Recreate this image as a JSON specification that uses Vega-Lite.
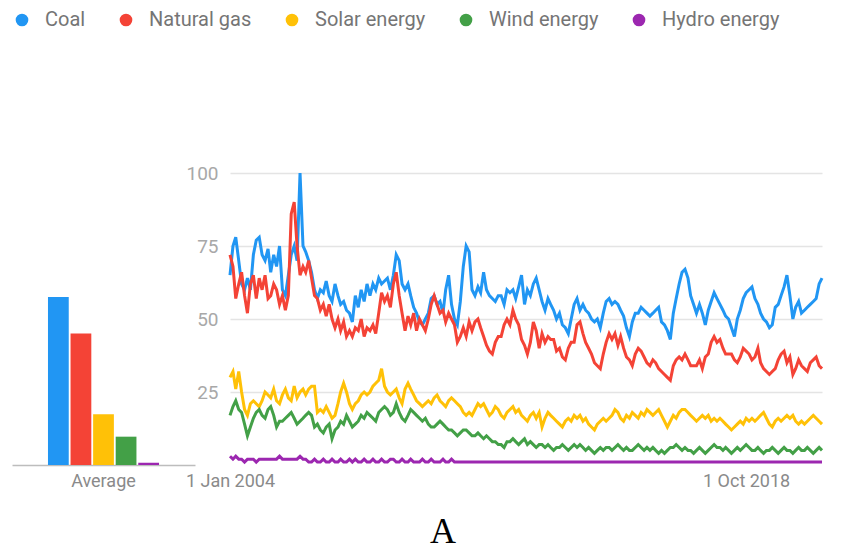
{
"$schema": "https://vega.github.io/schema/vega-lite/v6.json",
"background": "white",
"padding": {"left": 12, "top": 10, "right": 5, "bottom": 5},
"config": {"view": {"stroke": null}, "font": "Roboto"},
"bounds": "flush",
"spacing": 35,
"title": {"text": "A", "orient": "bottom", "anchor": "middle", "font": "Liberation Serif", "fontSize": 36, "fontWeight": "normal", "color": "#000000", "offset": 25, "dx": 23},
"datasets": {
"avg": [
{"label": "Average", "series": "Coal", "avg": 57.5},
{"label": "Average", "series": "Natural gas", "avg": 45},
{"label": "Average", "series": "Solar energy", "avg": 17.4},
{"label": "Average", "series": "Wind energy", "avg": 9.7},
{"label": "Average", "series": "Hydro energy", "avg": 0.8}
],
"trend": [
{"d":"2004/01/01","Coal":65,"Natural gas":72,"Solar energy":30,"Wind energy":17,"Hydro energy":3},
{"d":"2004/02/01","Coal":75,"Natural gas":68,"Solar energy":32,"Wind energy":20,"Hydro energy":2},
{"d":"2004/03/01","Coal":78,"Natural gas":57,"Solar energy":26,"Wind energy":22,"Hydro energy":3},
{"d":"2004/04/01","Coal":70,"Natural gas":62,"Solar energy":32,"Wind energy":19,"Hydro energy":2},
{"d":"2004/05/01","Coal":62,"Natural gas":66,"Solar energy":25,"Wind energy":18,"Hydro energy":2},
{"d":"2004/06/01","Coal":60,"Natural gas":58,"Solar energy":19,"Wind energy":14,"Hydro energy":1},
{"d":"2004/07/01","Coal":64,"Natural gas":52,"Solar energy":17,"Wind energy":10,"Hydro energy":2},
{"d":"2004/08/01","Coal":60,"Natural gas":62,"Solar energy":21,"Wind energy":13,"Hydro energy":2},
{"d":"2004/09/01","Coal":72,"Natural gas":65,"Solar energy":22,"Wind energy":16,"Hydro energy":2},
{"d":"2004/10/01","Coal":77,"Natural gas":57,"Solar energy":21,"Wind energy":18,"Hydro energy":1},
{"d":"2004/11/01","Coal":78,"Natural gas":64,"Solar energy":20,"Wind energy":19,"Hydro energy":2},
{"d":"2004/12/01","Coal":72,"Natural gas":60,"Solar energy":22,"Wind energy":17,"Hydro energy":2},
{"d":"2005/01/01","Coal":70,"Natural gas":65,"Solar energy":25,"Wind energy":16,"Hydro energy":2},
{"d":"2005/02/01","Coal":74,"Natural gas":57,"Solar energy":24,"Wind energy":19,"Hydro energy":2},
{"d":"2005/03/01","Coal":66,"Natural gas":58,"Solar energy":23,"Wind energy":20,"Hydro energy":2},
{"d":"2005/04/01","Coal":72,"Natural gas":62,"Solar energy":26,"Wind energy":17,"Hydro energy":2},
{"d":"2005/05/01","Coal":68,"Natural gas":60,"Solar energy":22,"Wind energy":13,"Hydro energy":2},
{"d":"2005/06/01","Coal":75,"Natural gas":55,"Solar energy":21,"Wind energy":15,"Hydro energy":3},
{"d":"2005/07/01","Coal":60,"Natural gas":58,"Solar energy":24,"Wind energy":15,"Hydro energy":2},
{"d":"2005/08/01","Coal":58,"Natural gas":53,"Solar energy":26,"Wind energy":16,"Hydro energy":2},
{"d":"2005/09/01","Coal":65,"Natural gas":58,"Solar energy":23,"Wind energy":17,"Hydro energy":2},
{"d":"2005/10/01","Coal":72,"Natural gas":86,"Solar energy":22,"Wind energy":18,"Hydro energy":2},
{"d":"2005/11/01","Coal":75,"Natural gas":90,"Solar energy":27,"Wind energy":16,"Hydro energy":2},
{"d":"2005/12/01","Coal":70,"Natural gas":75,"Solar energy":23,"Wind energy":14,"Hydro energy":2},
{"d":"2006/01/01","Coal":100,"Natural gas":65,"Solar energy":25,"Wind energy":15,"Hydro energy":3},
{"d":"2006/02/01","Coal":75,"Natural gas":68,"Solar energy":26,"Wind energy":16,"Hydro energy":2},
{"d":"2006/03/01","Coal":73,"Natural gas":66,"Solar energy":24,"Wind energy":17,"Hydro energy":2},
{"d":"2006/04/01","Coal":70,"Natural gas":70,"Solar energy":26,"Wind energy":18,"Hydro energy":1},
{"d":"2006/05/01","Coal":66,"Natural gas":64,"Solar energy":27,"Wind energy":17,"Hydro energy":1},
{"d":"2006/06/01","Coal":60,"Natural gas":58,"Solar energy":27,"Wind energy":13,"Hydro energy":2},
{"d":"2006/07/01","Coal":57,"Natural gas":57,"Solar energy":18,"Wind energy":14,"Hydro energy":1},
{"d":"2006/08/01","Coal":60,"Natural gas":53,"Solar energy":19,"Wind energy":12,"Hydro energy":1},
{"d":"2006/09/01","Coal":59,"Natural gas":55,"Solar energy":18,"Wind energy":11,"Hydro energy":2},
{"d":"2006/10/01","Coal":63,"Natural gas":51,"Solar energy":20,"Wind energy":13,"Hydro energy":1},
{"d":"2006/11/01","Coal":58,"Natural gas":55,"Solar energy":18,"Wind energy":14,"Hydro energy":1},
{"d":"2006/12/01","Coal":56,"Natural gas":50,"Solar energy":16,"Wind energy":9,"Hydro energy":2},
{"d":"2007/01/01","Coal":62,"Natural gas":47,"Solar energy":17,"Wind energy":12,"Hydro energy":1},
{"d":"2007/02/01","Coal":58,"Natural gas":50,"Solar energy":21,"Wind energy":13,"Hydro energy":1},
{"d":"2007/03/01","Coal":55,"Natural gas":46,"Solar energy":25,"Wind energy":15,"Hydro energy":2},
{"d":"2007/04/01","Coal":56,"Natural gas":49,"Solar energy":28,"Wind energy":14,"Hydro energy":1},
{"d":"2007/05/01","Coal":53,"Natural gas":44,"Solar energy":25,"Wind energy":17,"Hydro energy":1},
{"d":"2007/06/01","Coal":52,"Natural gas":46,"Solar energy":21,"Wind energy":15,"Hydro energy":2},
{"d":"2007/07/01","Coal":49,"Natural gas":44,"Solar energy":19,"Wind energy":13,"Hydro energy":1},
{"d":"2007/08/01","Coal":58,"Natural gas":47,"Solar energy":21,"Wind energy":14,"Hydro energy":2},
{"d":"2007/09/01","Coal":54,"Natural gas":46,"Solar energy":22,"Wind energy":15,"Hydro energy":1},
{"d":"2007/10/01","Coal":60,"Natural gas":50,"Solar energy":24,"Wind energy":17,"Hydro energy":1},
{"d":"2007/11/01","Coal":56,"Natural gas":44,"Solar energy":25,"Wind energy":16,"Hydro energy":2},
{"d":"2007/12/01","Coal":62,"Natural gas":47,"Solar energy":24,"Wind energy":18,"Hydro energy":1},
{"d":"2008/01/01","Coal":58,"Natural gas":46,"Solar energy":25,"Wind energy":17,"Hydro energy":1},
{"d":"2008/02/01","Coal":62,"Natural gas":48,"Solar energy":27,"Wind energy":16,"Hydro energy":2},
{"d":"2008/03/01","Coal":60,"Natural gas":45,"Solar energy":28,"Wind energy":15,"Hydro energy":1},
{"d":"2008/04/01","Coal":64,"Natural gas":52,"Solar energy":29,"Wind energy":18,"Hydro energy":1},
{"d":"2008/05/01","Coal":62,"Natural gas":59,"Solar energy":33,"Wind energy":19,"Hydro energy":2},
{"d":"2008/06/01","Coal":63,"Natural gas":56,"Solar energy":27,"Wind energy":20,"Hydro energy":1},
{"d":"2008/07/01","Coal":64,"Natural gas":58,"Solar energy":25,"Wind energy":19,"Hydro energy":1},
{"d":"2008/08/01","Coal":60,"Natural gas":54,"Solar energy":24,"Wind energy":17,"Hydro energy":2},
{"d":"2008/09/01","Coal":65,"Natural gas":62,"Solar energy":25,"Wind energy":18,"Hydro energy":2},
{"d":"2008/10/01","Coal":72,"Natural gas":66,"Solar energy":26,"Wind energy":21,"Hydro energy":1},
{"d":"2008/11/01","Coal":70,"Natural gas":58,"Solar energy":23,"Wind energy":18,"Hydro energy":1},
{"d":"2008/12/01","Coal":62,"Natural gas":52,"Solar energy":21,"Wind energy":16,"Hydro energy":2},
{"d":"2009/01/01","Coal":60,"Natural gas":46,"Solar energy":26,"Wind energy":15,"Hydro energy":1},
{"d":"2009/02/01","Coal":62,"Natural gas":51,"Solar energy":28,"Wind energy":17,"Hydro energy":1},
{"d":"2009/03/01","Coal":58,"Natural gas":48,"Solar energy":26,"Wind energy":19,"Hydro energy":2},
{"d":"2009/04/01","Coal":54,"Natural gas":52,"Solar energy":24,"Wind energy":18,"Hydro energy":1},
{"d":"2009/05/01","Coal":52,"Natural gas":46,"Solar energy":22,"Wind energy":17,"Hydro energy":1},
{"d":"2009/06/01","Coal":49,"Natural gas":50,"Solar energy":21,"Wind energy":16,"Hydro energy":1},
{"d":"2009/07/01","Coal":48,"Natural gas":48,"Solar energy":20,"Wind energy":15,"Hydro energy":2},
{"d":"2009/08/01","Coal":50,"Natural gas":46,"Solar energy":21,"Wind energy":16,"Hydro energy":1},
{"d":"2009/09/01","Coal":52,"Natural gas":50,"Solar energy":22,"Wind energy":14,"Hydro energy":1},
{"d":"2009/10/01","Coal":57,"Natural gas":55,"Solar energy":21,"Wind energy":13,"Hydro energy":2},
{"d":"2009/11/01","Coal":58,"Natural gas":58,"Solar energy":23,"Wind energy":13,"Hydro energy":1},
{"d":"2009/12/01","Coal":55,"Natural gas":55,"Solar energy":24,"Wind energy":14,"Hydro energy":1},
{"d":"2010/01/01","Coal":56,"Natural gas":52,"Solar energy":22,"Wind energy":15,"Hydro energy":1},
{"d":"2010/02/01","Coal":52,"Natural gas":53,"Solar energy":21,"Wind energy":14,"Hydro energy":2},
{"d":"2010/03/01","Coal":60,"Natural gas":49,"Solar energy":20,"Wind energy":13,"Hydro energy":1},
{"d":"2010/04/01","Coal":65,"Natural gas":52,"Solar energy":22,"Wind energy":12,"Hydro energy":1},
{"d":"2010/05/01","Coal":55,"Natural gas":50,"Solar energy":23,"Wind energy":12,"Hydro energy":2},
{"d":"2010/06/01","Coal":50,"Natural gas":48,"Solar energy":22,"Wind energy":11,"Hydro energy":1},
{"d":"2010/07/01","Coal":48,"Natural gas":42,"Solar energy":21,"Wind energy":10,"Hydro energy":1},
{"d":"2010/08/01","Coal":56,"Natural gas":44,"Solar energy":20,"Wind energy":11,"Hydro energy":1},
{"d":"2010/09/01","Coal":68,"Natural gas":47,"Solar energy":18,"Wind energy":12,"Hydro energy":1},
{"d":"2010/10/01","Coal":75,"Natural gas":44,"Solar energy":17,"Wind energy":12,"Hydro energy":1},
{"d":"2010/11/01","Coal":73,"Natural gas":49,"Solar energy":18,"Wind energy":11,"Hydro energy":1},
{"d":"2010/12/01","Coal":60,"Natural gas":46,"Solar energy":17,"Wind energy":10,"Hydro energy":1},
{"d":"2011/01/01","Coal":58,"Natural gas":49,"Solar energy":19,"Wind energy":10,"Hydro energy":1},
{"d":"2011/02/01","Coal":61,"Natural gas":50,"Solar energy":21,"Wind energy":11,"Hydro energy":1},
{"d":"2011/03/01","Coal":59,"Natural gas":47,"Solar energy":20,"Wind energy":10,"Hydro energy":1},
{"d":"2011/04/01","Coal":66,"Natural gas":44,"Solar energy":21,"Wind energy":9,"Hydro energy":1},
{"d":"2011/05/01","Coal":60,"Natural gas":41,"Solar energy":19,"Wind energy":10,"Hydro energy":1},
{"d":"2011/06/01","Coal":58,"Natural gas":39,"Solar energy":17,"Wind energy":9,"Hydro energy":1},
{"d":"2011/07/01","Coal":57,"Natural gas":38,"Solar energy":18,"Wind energy":8,"Hydro energy":1},
{"d":"2011/08/01","Coal":56,"Natural gas":42,"Solar energy":20,"Wind energy":8,"Hydro energy":1},
{"d":"2011/09/01","Coal":58,"Natural gas":44,"Solar energy":19,"Wind energy":7,"Hydro energy":1},
{"d":"2011/10/01","Coal":58,"Natural gas":44,"Solar energy":17,"Wind energy":7,"Hydro energy":1},
{"d":"2011/11/01","Coal":55,"Natural gas":48,"Solar energy":16,"Wind energy":6,"Hydro energy":1},
{"d":"2011/12/01","Coal":60,"Natural gas":50,"Solar energy":18,"Wind energy":8,"Hydro energy":1},
{"d":"2012/01/01","Coal":59,"Natural gas":48,"Solar energy":19,"Wind energy":8,"Hydro energy":1},
{"d":"2012/02/01","Coal":60,"Natural gas":53,"Solar energy":20,"Wind energy":9,"Hydro energy":1},
{"d":"2012/03/01","Coal":57,"Natural gas":50,"Solar energy":18,"Wind energy":8,"Hydro energy":1},
{"d":"2012/04/01","Coal":61,"Natural gas":48,"Solar energy":19,"Wind energy":7,"Hydro energy":1},
{"d":"2012/05/01","Coal":65,"Natural gas":43,"Solar energy":17,"Wind energy":8,"Hydro energy":1},
{"d":"2012/06/01","Coal":55,"Natural gas":41,"Solar energy":16,"Wind energy":9,"Hydro energy":1},
{"d":"2012/07/01","Coal":60,"Natural gas":38,"Solar energy":15,"Wind energy":7,"Hydro energy":1},
{"d":"2012/08/01","Coal":58,"Natural gas":42,"Solar energy":17,"Wind energy":8,"Hydro energy":1},
{"d":"2012/09/01","Coal":62,"Natural gas":49,"Solar energy":18,"Wind energy":7,"Hydro energy":1},
{"d":"2012/10/01","Coal":64,"Natural gas":46,"Solar energy":16,"Wind energy":6,"Hydro energy":1},
{"d":"2012/11/01","Coal":60,"Natural gas":40,"Solar energy":18,"Wind energy":7,"Hydro energy":1},
{"d":"2012/12/01","Coal":56,"Natural gas":45,"Solar energy":13,"Wind energy":7,"Hydro energy":1},
{"d":"2013/01/01","Coal":53,"Natural gas":42,"Solar energy":16,"Wind energy":6,"Hydro energy":1},
{"d":"2013/02/01","Coal":57,"Natural gas":44,"Solar energy":18,"Wind energy":7,"Hydro energy":1},
{"d":"2013/03/01","Coal":55,"Natural gas":43,"Solar energy":17,"Wind energy":6,"Hydro energy":1},
{"d":"2013/04/01","Coal":53,"Natural gas":43,"Solar energy":16,"Wind energy":5,"Hydro energy":1},
{"d":"2013/05/01","Coal":50,"Natural gas":39,"Solar energy":15,"Wind energy":6,"Hydro energy":1},
{"d":"2013/06/01","Coal":52,"Natural gas":40,"Solar energy":14,"Wind energy":6,"Hydro energy":1},
{"d":"2013/07/01","Coal":48,"Natural gas":37,"Solar energy":13,"Wind energy":7,"Hydro energy":1},
{"d":"2013/08/01","Coal":47,"Natural gas":36,"Solar energy":15,"Wind energy":6,"Hydro energy":1},
{"d":"2013/09/01","Coal":45,"Natural gas":40,"Solar energy":16,"Wind energy":5,"Hydro energy":1},
{"d":"2013/10/01","Coal":50,"Natural gas":42,"Solar energy":15,"Wind energy":6,"Hydro energy":1},
{"d":"2013/11/01","Coal":55,"Natural gas":42,"Solar energy":17,"Wind energy":7,"Hydro energy":1},
{"d":"2013/12/01","Coal":57,"Natural gas":48,"Solar energy":16,"Wind energy":6,"Hydro energy":1},
{"d":"2014/01/01","Coal":53,"Natural gas":49,"Solar energy":17,"Wind energy":7,"Hydro energy":1},
{"d":"2014/02/01","Coal":55,"Natural gas":45,"Solar energy":15,"Wind energy":6,"Hydro energy":1},
{"d":"2014/03/01","Coal":53,"Natural gas":42,"Solar energy":16,"Wind energy":5,"Hydro energy":1},
{"d":"2014/04/01","Coal":52,"Natural gas":40,"Solar energy":14,"Wind energy":6,"Hydro energy":1},
{"d":"2014/05/01","Coal":50,"Natural gas":38,"Solar energy":13,"Wind energy":5,"Hydro energy":1},
{"d":"2014/06/01","Coal":49,"Natural gas":35,"Solar energy":12,"Wind energy":4,"Hydro energy":1},
{"d":"2014/07/01","Coal":50,"Natural gas":34,"Solar energy":14,"Wind energy":5,"Hydro energy":1},
{"d":"2014/08/01","Coal":47,"Natural gas":33,"Solar energy":15,"Wind energy":6,"Hydro energy":1},
{"d":"2014/09/01","Coal":52,"Natural gas":38,"Solar energy":16,"Wind energy":5,"Hydro energy":1},
{"d":"2014/10/01","Coal":56,"Natural gas":42,"Solar energy":15,"Wind energy":6,"Hydro energy":1},
{"d":"2014/11/01","Coal":57,"Natural gas":45,"Solar energy":16,"Wind energy":6,"Hydro energy":1},
{"d":"2014/12/01","Coal":55,"Natural gas":43,"Solar energy":17,"Wind energy":5,"Hydro energy":1},
{"d":"2015/01/01","Coal":56,"Natural gas":45,"Solar energy":19,"Wind energy":6,"Hydro energy":1},
{"d":"2015/02/01","Coal":55,"Natural gas":41,"Solar energy":18,"Wind energy":7,"Hydro energy":1},
{"d":"2015/03/01","Coal":53,"Natural gas":44,"Solar energy":16,"Wind energy":6,"Hydro energy":1},
{"d":"2015/04/01","Coal":51,"Natural gas":40,"Solar energy":15,"Wind energy":5,"Hydro energy":1},
{"d":"2015/05/01","Coal":47,"Natural gas":37,"Solar energy":17,"Wind energy":6,"Hydro energy":1},
{"d":"2015/06/01","Coal":44,"Natural gas":36,"Solar energy":16,"Wind energy":5,"Hydro energy":1},
{"d":"2015/07/01","Coal":49,"Natural gas":34,"Solar energy":18,"Wind energy":5,"Hydro energy":1},
{"d":"2015/08/01","Coal":52,"Natural gas":38,"Solar energy":17,"Wind energy":6,"Hydro energy":1},
{"d":"2015/09/01","Coal":52,"Natural gas":40,"Solar energy":16,"Wind energy":7,"Hydro energy":1},
{"d":"2015/10/01","Coal":54,"Natural gas":39,"Solar energy":18,"Wind energy":6,"Hydro energy":1},
{"d":"2015/11/01","Coal":53,"Natural gas":37,"Solar energy":17,"Wind energy":5,"Hydro energy":1},
{"d":"2015/12/01","Coal":52,"Natural gas":35,"Solar energy":19,"Wind energy":6,"Hydro energy":1},
{"d":"2016/01/01","Coal":51,"Natural gas":34,"Solar energy":18,"Wind energy":5,"Hydro energy":1},
{"d":"2016/02/01","Coal":52,"Natural gas":36,"Solar energy":17,"Wind energy":6,"Hydro energy":1},
{"d":"2016/03/01","Coal":53,"Natural gas":35,"Solar energy":18,"Wind energy":5,"Hydro energy":1},
{"d":"2016/04/01","Coal":54,"Natural gas":33,"Solar energy":19,"Wind energy":4,"Hydro energy":1},
{"d":"2016/05/01","Coal":49,"Natural gas":32,"Solar energy":17,"Wind energy":5,"Hydro energy":1},
{"d":"2016/06/01","Coal":48,"Natural gas":31,"Solar energy":15,"Wind energy":4,"Hydro energy":1},
{"d":"2016/07/01","Coal":46,"Natural gas":30,"Solar energy":13,"Wind energy":5,"Hydro energy":1},
{"d":"2016/08/01","Coal":43,"Natural gas":29,"Solar energy":15,"Wind energy":6,"Hydro energy":1},
{"d":"2016/09/01","Coal":52,"Natural gas":34,"Solar energy":17,"Wind energy":6,"Hydro energy":1},
{"d":"2016/10/01","Coal":57,"Natural gas":36,"Solar energy":16,"Wind energy":7,"Hydro energy":1},
{"d":"2016/11/01","Coal":62,"Natural gas":37,"Solar energy":18,"Wind energy":6,"Hydro energy":1},
{"d":"2016/12/01","Coal":66,"Natural gas":36,"Solar energy":19,"Wind energy":5,"Hydro energy":1},
{"d":"2017/01/01","Coal":67,"Natural gas":38,"Solar energy":19,"Wind energy":6,"Hydro energy":1},
{"d":"2017/02/01","Coal":64,"Natural gas":36,"Solar energy":18,"Wind energy":5,"Hydro energy":1},
{"d":"2017/03/01","Coal":58,"Natural gas":34,"Solar energy":17,"Wind energy":5,"Hydro energy":1},
{"d":"2017/04/01","Coal":55,"Natural gas":34,"Solar energy":16,"Wind energy":4,"Hydro energy":1},
{"d":"2017/05/01","Coal":52,"Natural gas":34,"Solar energy":15,"Wind energy":5,"Hydro energy":1},
{"d":"2017/06/01","Coal":55,"Natural gas":36,"Solar energy":16,"Wind energy":6,"Hydro energy":1},
{"d":"2017/07/01","Coal":52,"Natural gas":33,"Solar energy":17,"Wind energy":5,"Hydro energy":1},
{"d":"2017/08/01","Coal":48,"Natural gas":37,"Solar energy":16,"Wind energy":4,"Hydro energy":1},
{"d":"2017/09/01","Coal":53,"Natural gas":38,"Solar energy":17,"Wind energy":5,"Hydro energy":1},
{"d":"2017/10/01","Coal":56,"Natural gas":42,"Solar energy":15,"Wind energy":6,"Hydro energy":1},
{"d":"2017/11/01","Coal":59,"Natural gas":44,"Solar energy":16,"Wind energy":7,"Hydro energy":1},
{"d":"2017/12/01","Coal":57,"Natural gas":42,"Solar energy":15,"Wind energy":6,"Hydro energy":1},
{"d":"2018/01/01","Coal":55,"Natural gas":43,"Solar energy":16,"Wind energy":6,"Hydro energy":1},
{"d":"2018/02/01","Coal":53,"Natural gas":40,"Solar energy":15,"Wind energy":5,"Hydro energy":1},
{"d":"2018/03/01","Coal":51,"Natural gas":38,"Solar energy":14,"Wind energy":6,"Hydro energy":1},
{"d":"2018/04/01","Coal":50,"Natural gas":38,"Solar energy":13,"Wind energy":5,"Hydro energy":1},
{"d":"2018/05/01","Coal":47,"Natural gas":38,"Solar energy":12,"Wind energy":4,"Hydro energy":1},
{"d":"2018/06/01","Coal":44,"Natural gas":36,"Solar energy":13,"Wind energy":5,"Hydro energy":1},
{"d":"2018/07/01","Coal":50,"Natural gas":35,"Solar energy":14,"Wind energy":6,"Hydro energy":1},
{"d":"2018/08/01","Coal":53,"Natural gas":37,"Solar energy":15,"Wind energy":5,"Hydro energy":1},
{"d":"2018/09/01","Coal":57,"Natural gas":40,"Solar energy":14,"Wind energy":6,"Hydro energy":1},
{"d":"2018/10/01","Coal":59,"Natural gas":39,"Solar energy":16,"Wind energy":7,"Hydro energy":1},
{"d":"2018/11/01","Coal":60,"Natural gas":38,"Solar energy":15,"Wind energy":6,"Hydro energy":1},
{"d":"2018/12/01","Coal":61,"Natural gas":36,"Solar energy":16,"Wind energy":5,"Hydro energy":1},
{"d":"2019/01/01","Coal":57,"Natural gas":37,"Solar energy":15,"Wind energy":5,"Hydro energy":1},
{"d":"2019/02/01","Coal":55,"Natural gas":40,"Solar energy":16,"Wind energy":6,"Hydro energy":1},
{"d":"2019/03/01","Coal":52,"Natural gas":35,"Solar energy":17,"Wind energy":5,"Hydro energy":1},
{"d":"2019/04/01","Coal":50,"Natural gas":33,"Solar energy":18,"Wind energy":4,"Hydro energy":1},
{"d":"2019/05/01","Coal":49,"Natural gas":32,"Solar energy":16,"Wind energy":5,"Hydro energy":1},
{"d":"2019/06/01","Coal":47,"Natural gas":31,"Solar energy":14,"Wind energy":5,"Hydro energy":1},
{"d":"2019/07/01","Coal":48,"Natural gas":32,"Solar energy":13,"Wind energy":6,"Hydro energy":1},
{"d":"2019/08/01","Coal":54,"Natural gas":33,"Solar energy":15,"Wind energy":5,"Hydro energy":1},
{"d":"2019/09/01","Coal":55,"Natural gas":36,"Solar energy":16,"Wind energy":4,"Hydro energy":1},
{"d":"2019/10/01","Coal":58,"Natural gas":38,"Solar energy":15,"Wind energy":5,"Hydro energy":1},
{"d":"2019/11/01","Coal":61,"Natural gas":39,"Solar energy":16,"Wind energy":6,"Hydro energy":1},
{"d":"2019/12/01","Coal":65,"Natural gas":35,"Solar energy":17,"Wind energy":5,"Hydro energy":1},
{"d":"2020/01/01","Coal":58,"Natural gas":37,"Solar energy":16,"Wind energy":5,"Hydro energy":1},
{"d":"2020/02/01","Coal":50,"Natural gas":31,"Solar energy":17,"Wind energy":4,"Hydro energy":1},
{"d":"2020/03/01","Coal":54,"Natural gas":33,"Solar energy":15,"Wind energy":5,"Hydro energy":1},
{"d":"2020/04/01","Coal":56,"Natural gas":36,"Solar energy":14,"Wind energy":6,"Hydro energy":1},
{"d":"2020/05/01","Coal":52,"Natural gas":34,"Solar energy":15,"Wind energy":5,"Hydro energy":1},
{"d":"2020/06/01","Coal":53,"Natural gas":33,"Solar energy":14,"Wind energy":5,"Hydro energy":1},
{"d":"2020/07/01","Coal":54,"Natural gas":32,"Solar energy":15,"Wind energy":6,"Hydro energy":1},
{"d":"2020/08/01","Coal":55,"Natural gas":35,"Solar energy":16,"Wind energy":5,"Hydro energy":1},
{"d":"2020/09/01","Coal":56,"Natural gas":36,"Solar energy":17,"Wind energy":4,"Hydro energy":1},
{"d":"2020/10/01","Coal":57,"Natural gas":37,"Solar energy":16,"Wind energy":5,"Hydro energy":1},
{"d":"2020/11/01","Coal":62,"Natural gas":34,"Solar energy":15,"Wind energy":6,"Hydro energy":1},
{"d":"2020/12/01","Coal":64,"Natural gas":33,"Solar energy":14,"Wind energy":5,"Hydro energy":1}
]
},
"hconcat": [
{
"width": 183,
"height": 292,
"data": {"name": "avg"},
"mark": {"type": "bar"},
"encoding": {
"x": {"field": "label", "type": "nominal", "title": null, "scale": {"paddingInner": 0, "paddingOuter": 0.324},
 "axis": {"labelAngle": 0, "ticks": false, "domainColor": "#bdbdbd", "domainWidth": 1.5, "labelColor": "#8a8a8a", "labelFontSize": 18, "labelPadding": 7}},
"xOffset": {"field": "series", "type": "nominal", "sort": ["Coal", "Natural gas", "Solar energy", "Wind energy", "Hydro energy"], "scale": {"paddingInner": 0.08, "paddingOuter": 0}},
"y": {"field": "avg", "type": "quantitative", "scale": {"domain": [0, 100], "nice": false}, "axis": null},
"color": {"field": "series", "type": "nominal",
 "scale": {"domain": ["Coal", "Natural gas", "Solar energy", "Wind energy", "Hydro energy"], "range": ["#2196F3", "#F44336", "#FFC107", "#43A047", "#9C27B0"]},
 "legend": {"orient": "top", "direction": "horizontal", "title": null, "symbolType": "circle", "symbolSize": 160, "symbolStrokeWidth": 0, "symbolOpacity": 1, "labelFontSize": 20, "labelColor": "#757575", "labelFont": "Roboto", "columnPadding": 30, "labelOffset": 13, "offset": 134}}
}
},
{
"width": 592,
"height": 292,
"data": {"name": "trend"},
"transform": [{"fold": ["Coal", "Natural gas", "Solar energy", "Wind energy", "Hydro energy"], "as": ["series", "value"]}],
"mark": {"type": "line", "strokeWidth": 3},
"encoding": {
"x": {"field": "d", "type": "temporal", "title": null,
 "scale": {"domain": [{"year": 2004, "month": 1, "date": 1}, {"year": 2020, "month": 12, "date": 1}]},
 "axis": {"values": [{"year": 2004, "month": 1, "date": 1}, {"year": 2018, "month": 10, "date": 1}], "format": "%-d %b %Y", "labelColor": "#8a8a8a", "labelFontSize": 18, "ticks": false, "domain": false, "grid": false, "labelPadding": 7, "labelFlush": false, "labelOverlap": false}},
"y": {"field": "value", "type": "quantitative", "scale": {"domain": [0, 100], "nice": false},
 "axis": {"values": [25, 50, 75, 100], "title": null, "domain": false, "ticks": false, "labelColor": "#a8a8a8", "labelFontSize": 19, "labelPadding": 12, "gridColor": "#e4e4e4", "gridWidth": 1.5}},
"color": {"field": "series", "type": "nominal",
 "scale": {"domain": ["Coal", "Natural gas", "Solar energy", "Wind energy", "Hydro energy"], "range": ["#2196F3", "#F44336", "#FFC107", "#43A047", "#9C27B0"]},
 "legend": null}
}
}
]
}
